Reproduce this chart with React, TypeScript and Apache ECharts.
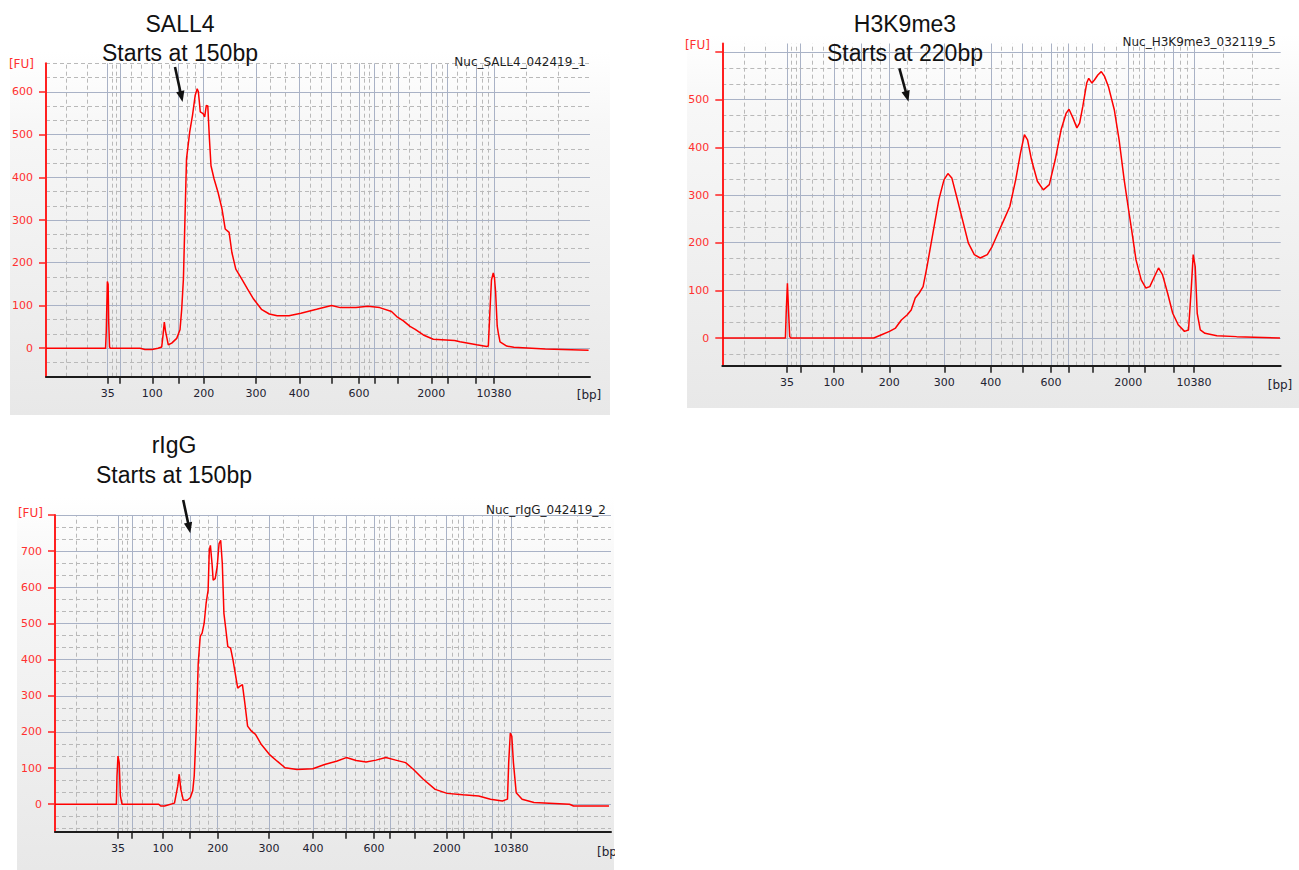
import React, { useEffect, useRef } from "react";
import * as echarts from "echarts";

// Ladder sizes (bp) shown as ticks on every electropherogram
const BP_LADDER = [35, 50, 100, 150, 200, 300, 400, 500, 600, 700, 1000, 2000, 3000, 7000, 10380];
const BP_LABELED = [35, 100, 200, 300, 400, 600, 2000, 10380];

// Migration position (0-100 across the x axis) of each ladder size, per run
const sall4LadderPos = [11.34, 13.6, 19.54, 24.32, 28.99, 38.6, 46.56, 52.52, 57.54, 60.35, 64.71, 70.83, 73.77, 79.04, 82.35];
const h3k9LadderPos = [11.59, 14.04, 20.0, 24.96, 29.91, 39.76, 48.08, 53.8, 58.86, 62.03, 66.26, 72.71, 75.57, 80.84, 84.47];
const riggLadderPos = [11.33, 13.85, 19.42, 24.28, 29.26, 38.49, 46.4, 52.34, 57.37, 60.25, 64.62, 70.45, 73.43, 78.6, 82.01];

// Traces: migration position and fluorescence [FU]
const sall4Pos = [0, 10.95, 11.08, 11.28, 11.42, 11.52, 11.68, 11.86, 17.28, 18.2, 19.49, 20.59, 21.27, 21.51, 21.75, 21.97, 22.48, 23.11, 24.03, 24.63, 24.94, 25.26, 25.48, 25.83, 26.42, 26.93, 27.43, 27.79, 28.01, 28.36, 28.88, 29.17, 29.47, 29.74, 30.04, 30.33, 30.9, 31.62, 32.35, 32.94, 33.66, 34.17, 34.89, 35.97, 37.06, 38.16, 39.6, 41.05, 42.5, 44.67, 46.86, 49.74, 52.5, 54.1, 56.99, 59.17, 61.34, 63.51, 64.47, 65.7, 66.91, 67.87, 69.36, 71.19, 75.11, 76.1, 79.17, 81.01, 81.31, 81.62, 81.89, 82.22, 82.44, 82.65, 82.94, 83.14, 83.46, 84.69, 86.0, 91.78, 99.74];
const sall4FU = [0, 0, 40, 156, 150, 65, 3, 0, 0, -3, -3, 0, 3, 30, 61, 40, 8, 12, 23, 43, 90, 162, 271, 443, 506, 545, 592, 607, 600, 553, 549, 541, 568, 567, 490, 427, 396, 365, 326, 279, 271, 224, 185, 162, 138, 115, 91, 80, 76, 76, 82, 91, 100, 95, 95, 98, 95, 86, 74, 64, 51, 44, 31, 21, 18, 15, 8, 4, 5, 91, 160, 176, 165, 131, 52, 36, 15, 5, 2, -2, -5];

const h3k9Pos = [0, 11.3, 11.44, 11.66, 11.87, 12.07, 12.29, 27.13, 28.53, 29.94, 31.02, 32.07, 33.13, 33.83, 34.55, 35.24, 35.96, 36.66, 37.72, 38.77, 39.7, 40.4, 41.1, 41.96, 43.02, 44.07, 45.13, 46.19, 47.46, 48.32, 49.37, 50.43, 51.49, 52.54, 53.4, 54.1, 54.67, 55.37, 56.43, 57.49, 58.56, 59.62, 60.67, 61.59, 62.09, 62.79, 63.5, 63.99, 64.56, 65.26, 65.62, 66.19, 66.67, 67.25, 67.87, 68.45, 69.14, 70.2, 71.06, 71.97, 72.67, 73.39, 74.09, 75.02, 75.86, 76.56, 77.27, 78.12, 78.83, 79.75, 80.66, 81.64, 82.77, 83.49, 83.97, 84.33, 84.69, 85.05, 85.6, 86.44, 88.57, 92.1, 99.87];
const h3k9FU = [0, 0, 52, 115, 56, 3, 0, 0, 7, 14, 21, 38, 49, 59, 84, 94, 108, 150, 220, 290, 332, 345, 336, 297, 248, 199, 175, 168, 175, 192, 220, 248, 276, 332, 388, 427, 416, 374, 329, 311, 322, 374, 437, 472, 480, 462, 441, 451, 486, 535, 545, 535, 542, 552, 559, 549, 528, 479, 416, 332, 276, 220, 164, 122, 105, 108, 126, 147, 133, 94, 52, 28, 14, 17, 101, 175, 150, 52, 17, 10, 5, 3, 0];

const riggPos = [0, 11.04, 11.15, 11.33, 11.55, 11.76, 12.05, 18.65, 19.01, 19.71, 21.49, 22.07, 22.34, 22.63, 23.06, 23.76, 24.33, 24.77, 25.04, 25.4, 25.76, 26.12, 26.46, 26.82, 27.18, 27.54, 27.75, 27.95, 28.24, 28.45, 28.81, 29.17, 29.51, 29.8, 30.09, 30.38, 30.74, 31.08, 31.58, 32.01, 32.5, 32.86, 33.22, 33.71, 34.14, 34.64, 35.34, 36.06, 37.12, 38.54, 39.96, 41.38, 43.53, 46.37, 48.49, 50.63, 52.39, 54.17, 55.95, 57.73, 59.5, 61.28, 63.06, 64.48, 66.24, 68.38, 70.52, 73.36, 76.2, 78.33, 80.47, 81.38, 81.6, 81.89, 82.16, 82.45, 82.95, 84.01, 86.15, 92.54, 93.26, 99.64];
const riggFU = [0, 0, 78, 133, 115, 23, 0, 0, -5, -5, 3, 50, 83, 41, 12, 11, 18, 37, 78, 207, 390, 464, 473, 500, 556, 592, 702, 716, 666, 620, 624, 657, 721, 730, 666, 528, 482, 436, 432, 399, 354, 321, 326, 331, 280, 216, 202, 193, 165, 138, 119, 101, 96, 98, 110, 119, 129, 121, 117, 122, 129, 122, 115, 96, 69, 41, 30, 26, 23, 14, 9, 14, 115, 197, 188, 115, 32, 14, 5, 0, -5, -5];

// Y axis ticks / labels
const sall4YTicks = [0, 100, 200, 300, 400, 500, 600];
const sall4YLabels = [0, 100, 200, 300, 400, 500, 600];
const h3k9YTicks = [0, 100, 200, 300, 400, 500, 600];
const h3k9YLabels = [0, 100, 200, 300, 400, 500];
const riggYTicks = [0, 100, 200, 300, 400, 500, 600, 700, 800];
const riggYLabels = [0, 100, 200, 300, 400, 500, 600, 700];

const panels = [
  { name: "Nuc_SALL4_042419_1", ladder: sall4LadderPos, pos: sall4Pos, fu: sall4FU, yMin: -66.67, yMax: 666.67, yTicks: sall4YTicks, yLabels: sall4YLabels,
    grid: { left: 46, top: 63.3, width: 544, height: 313.4 } },
  { name: "Nuc_H3K9me3_032119_5", ladder: h3k9LadderPos, pos: h3k9Pos, fu: h3k9FU, yMin: -58, yMax: 618, yTicks: h3k9YTicks, yLabels: h3k9YLabels,
    grid: { left: 722.3, top: 43.5, width: 558.4, height: 322.2 } },
  { name: "Nuc_rIgG_042419_2", ladder: riggLadderPos, pos: riggPos, fu: riggFU, yMin: -76, yMax: 800, yTicks: riggYTicks, yLabels: riggYLabels,
    grid: { left: 55, top: 515, width: 556, height: 316.7 } },
];

const SOLID = { color: "#a9b2c6", width: 1, type: "solid" };
const DASH = { color: "#b9b9b9", width: 1, type: [4, 3] };
const FONT = "DejaVu Sans";

function gridLineSeries(idx: number, ladder: number[], yMin: number, yMax: number) {
  const data: any[] = [];
  ladder.forEach((p) => data.push({ xAxis: p, lineStyle: SOLID }));
  const xs = [0, ...ladder, 100];
  for (let i = 0; i < xs.length - 1; i++) {
    const a = xs[i], b = xs[i + 1];
    data.push({ xAxis: a + (b - a) / 3, lineStyle: DASH });
    data.push({ xAxis: a + (2 * (b - a)) / 3, lineStyle: DASH });
  }
  for (let k = Math.ceil(yMin / 100) * 100; k <= yMax + 0.01; k += 100) data.push({ yAxis: k, lineStyle: SOLID });
  for (let m = Math.ceil((yMin * 3) / 100 - 0.001); (m * 100) / 3 <= yMax + 0.01; m++) {
    const v = (m * 100) / 3;
    if (m % 3 !== 0 && v > yMin + 1) data.push({ yAxis: v, lineStyle: DASH });
  }
  return {
    type: "line", xAxisIndex: idx, yAxisIndex: idx, data: [], silent: true, z: 1,
    markLine: { silent: true, symbol: ["none", "none"], label: { show: false }, animation: false, z: 1, data },
  };
}

function arrow(x1: number, y1: number, x2: number, y2: number) {
  const dx = x2 - x1, dy = y2 - y1, L = Math.hypot(dx, dy);
  const ux = dx / L, uy = dy / L, hl = 11, hw = 4.2;
  const bx = x2 - ux * hl, by = y2 - uy * hl;
  return [
    { type: "line", z: 100, shape: { x1, y1, x2: bx + ux * 2, y2: by + uy * 2 }, style: { stroke: "#111", lineWidth: 2.6 } },
    { type: "polygon", z: 100, shape: { points: [[x2, y2], [bx - uy * hw, by + ux * hw], [bx + uy * hw, by - ux * hw]] }, style: { fill: "#111" } },
  ];
}

function bigText(text: string, x: number, y: number) {
  return { type: "text", z: 100, x, y, style: { text, fill: "#111", fontSize: 23, fontFamily: "Liberation Sans", align: "center", verticalAlign: "middle" } };
}
function smallText(text: string, x: number, y: number, align: string, fill: string, size = 11) {
  return { type: "text", z: 100, x, y, style: { text, fill, fontSize: size, fontFamily: FONT, align, verticalAlign: "middle" } };
}
function bg(x: number, y: number, w: number, h: number) {
  return {
    type: "rect", z: -100, shape: { x, y, width: w, height: h },
    style: { fill: new echarts.graphic.LinearGradient(0, 0, 0, 1, [
      { offset: 0, color: "#ffffff" }, { offset: 0.2, color: "#f7f7f7" }, { offset: 1, color: "#e8e8e8" }]) },
  };
}

export default function App() {
  const ref = useRef<HTMLDivElement>(null);
  useEffect(() => {
    if (!ref.current) return;
    const chart = echarts.init(ref.current, undefined, { renderer: "svg" });
    const xAxis = panels.map((p, i) => {
      const labeled = p.ladder.filter((_, j) => BP_LABELED.includes(BP_LADDER[j]));
      return {
        type: "value", gridIndex: i, min: 0, max: 100, z: 5,
        axisLine: { show: true, onZero: false, lineStyle: { color: "#1c1c1c", width: 2 } },
        axisTick: { show: true, customValues: p.ladder, length: 7, lineStyle: { color: "#1c1c1c", width: 1.5 } },
        axisLabel: {
          customValues: labeled, margin: 11, color: "#222230", fontSize: 11, fontFamily: FONT, hideOverlap: false,
          formatter: (v: number) => {
            const j = p.ladder.findIndex((q) => Math.abs(q - v) < 1e-6);
            return j >= 0 ? String(BP_LADDER[j]) : "";
          },
        },
        splitLine: { show: false },
      };
    });
    const yAxis = panels.map((p, i) => ({
      type: "value", gridIndex: i, min: p.yMin, max: p.yMax, z: 5,
      axisLine: { show: true, onZero: false, lineStyle: { color: "#ff2020", width: 2 } },
      axisTick: { show: true, customValues: p.yTicks, length: 7, lineStyle: { color: "#ff2020", width: 1.5 } },
      axisLabel: { customValues: p.yLabels, margin: 13, color: "#ff3030", fontSize: 11, fontFamily: FONT, formatter: (v: number) => String(v) },
      splitLine: { show: false },
    }));
    const series: any[] = [];
    panels.forEach((p, i) => {
      series.push(gridLineSeries(i, p.ladder, p.yMin, p.yMax));
      series.push({
        type: "line", xAxisIndex: i, yAxisIndex: i, z: 10, symbol: "none", showSymbol: false, silent: true,
        lineStyle: { color: "#ff0000", width: 1.5 },
        data: p.pos.map((x, j) => [x, p.fu[j]]),
      });
    });
    const graphic: any[] = [
      bg(10, 52, 600, 363), bg(687, 34, 612, 374), bg(17, 497, 597, 373),
      bigText("SALL4", 180, 24), bigText("Starts at 150bp", 180, 53),
      bigText("H3K9me3", 905, 24), bigText("Starts at 220bp", 905, 53),
      bigText("rIgG", 174, 445), bigText("Starts at 150bp", 174, 475),
      ...arrow(175, 67, 182.6, 102), ...arrow(899.4, 68.3, 908.5, 101.7), ...arrow(183.2, 500, 190.3, 533.3),
      smallText("Nuc_SALL4_042419_1", 586, 61.5, "right", "#1e1e1e", 12),
      smallText("Nuc_H3K9me3_032119_5", 1276, 41.5, "right", "#1e1e1e", 12),
      smallText("Nuc_rIgG_042419_2", 606, 510, "right", "#1e1e1e", 12),
      smallText("[FU]", 34, 63.5, "right", "#ff3030", 12), smallText("[FU]", 710, 45, "right", "#ff3030", 12), smallText("[FU]", 43, 512.5, "right", "#ff3030", 12),
      smallText("[bp]", 589, 395, "center", "#222230", 12), smallText("[bp]", 1280, 385, "center", "#222230", 12), smallText("[bp]", 597, 852, "left", "#222230", 12),
      { type: "rect", z: 120, shape: { x: 615, y: 835, width: 60, height: 35 }, style: { fill: "#ffffff" } },
    ];
    chart.setOption({
      animation: false,
      backgroundColor: "#ffffff",
      grid: panels.map((p) => ({ ...p.grid, containLabel: false, outerBoundsMode: "none" })),
      xAxis, yAxis, series, graphic,
    });
    return () => chart.dispose();
  }, []);
  return <div ref={ref} style={{ position: "absolute", left: 0, top: 0, width: 1299, height: 870 }} />;
}
